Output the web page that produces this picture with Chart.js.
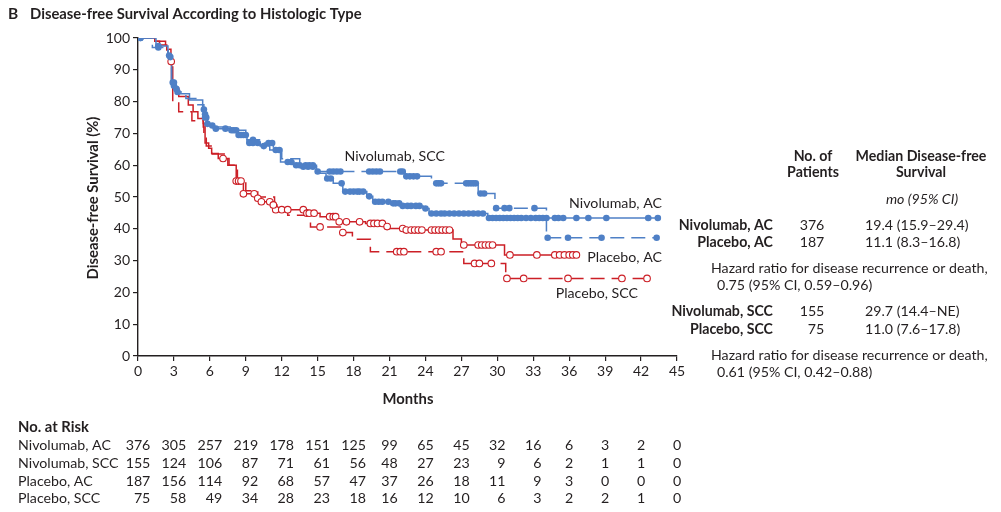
<!DOCTYPE html>
<html>
<head>
<meta charset="utf-8">
<script src="https://cdn.jsdelivr.net/npm/chart.js@4.4.1/dist/chart.umd.min.js"></script>
<style>
  html, body { margin: 0; padding: 0; background: #fff; }
  #wrap { position: relative; width: 1001px; height: 512px; }
</style>
</head>
<body>
<div id="wrap"><canvas id="km" width="1001" height="512"></canvas></div>
<script>
const BLUE = '#4f80c6';
const RED  = '#cc1f26';
const INK  = '#231f20';
const FONT = 'Lato, "Noto Sans", sans-serif';
const TXT  = 14.2;   // body text size

// ── Axes ──────────────────────────────────────────────────────
const X_TICKS = [0, 3, 6, 9, 12, 15, 18, 21, 24, 27, 30, 33, 36, 39, 42, 45];
const Y_TICKS = [0, 10, 20, 30, 40, 50, 60, 70, 80, 90, 100];

// ── Kaplan-Meier steps: [month, survival %] (value after the drop) ──
const nivoAC = [
    [0, 100], [1.5, 97.5], [2.5, 94.5], [2.8, 86], [3.1, 84], [3.4, 82.5], [4.3, 80.5],
    [5.4, 77.5], [5.6, 75], [5.8, 72.5], [6.3, 71.5], [7.7, 71], [8.3, 69.5], [9.1, 67],
    [10.2, 66], [11, 64.8], [11.9, 61], [13, 60], [14.9, 57.5], [15.7, 55.8], [16.3, 54.3],
    [17.1, 51.7], [19.1, 50.2], [19.6, 48.5], [21.3, 48], [21.9, 47.2], [23.8, 46.4],
    [24.3, 44.8], [29.2, 43.4], [43.6, 43.4]
];
const nivoSCC = [
    [0, 100], [1.2, 97], [2.5, 94], [2.8, 85], [3.2, 83], [4, 81], [5, 79], [5.5, 76],
    [5.8, 73], [6.5, 72], [8, 71], [9, 68], [10.5, 67], [11.3, 65], [12, 62], [13.5, 59.5],
    [15, 58], [22.3, 56.5], [24.5, 54.3], [28.4, 51.1], [29.8, 46.5], [34.1, 37.2], [43.4, 37.2]
];
const placeboAC = [
    [0, 100], [1.4, 99], [1.8, 97.8], [2.4, 96.2], [2.5, 94.6], [2.75, 92.6], [2.8, 86.3],
    [2.95, 84.2], [3.4, 81.6], [4.2, 78.9], [4.6, 76.8], [5.0, 74.7], [5.45, 73.1], [5.6, 67],
    [5.9, 65.3], [6.15, 63.7], [6.7, 62.1], [7.6, 60], [8.2, 55], [8.8, 51], [9.9, 49.6],
    [10.2, 48.5], [11.3, 47.5], [11.6, 46], [14.1, 44.9], [15.2, 43.8], [16.6, 42.2],
    [19, 41.7], [20.5, 40.7], [21, 40.1], [22.4, 39.6], [26.3, 36.8], [27, 34.9],
    [30.6, 31.8], [36.8, 31.8]
];
const placeboSCC = [
    [0, 100], [1.5, 99], [2.3, 96.5], [2.75, 92], [2.9, 80], [3.4, 76.8], [4.5, 74],
    [5.45, 72], [5.5, 68.5], [5.7, 66], [6.2, 63.5], [7.5, 60], [8.3, 55], [9, 52], [10, 50],
    [11.4, 46], [12.5, 44.3], [14.4, 40.6], [17, 38.8], [17.9, 36.7], [19.4, 32.8],
    [27.2, 29.1], [30.7, 24.4], [42.5, 24.4]
];

// ── Censoring times (months) ──────────────────────────────────
const censNivoAC = [
    0.2, 1.7, 2.6, 2.9, 3.0, 3.2, 5.5, 5.6, 5.7, 6.2, 6.5, 7.3, 7.8, 8.0, 8.4, 8.6, 8.8, 9.0,
    9.3, 9.6, 10.0, 10.5, 11.5, 11.8, 12.5, 12.8, 13.2, 13.5, 14.0, 14.3, 14.6, 15.8, 16.1,
    17.0, 17.3, 17.7, 18.0, 18.3, 18.5, 18.8, 19.3, 19.8, 20.1, 20.4, 20.9, 21.3, 21.5, 21.8,
    22.1, 22.5, 22.8, 23.2, 23.5, 24.0, 24.5, 24.9, 25.3, 25.6, 26.0, 26.4, 26.8, 27.2, 27.6,
    28.0, 28.4, 28.8, 29.3, 29.6, 29.9, 30.2, 30.5, 30.8, 31.1, 31.4, 31.7, 32.0, 32.4, 32.8,
    33.2, 33.5, 33.8, 34.1, 34.8, 35.1, 35.5, 36.6, 37.6, 39.1, 42.6, 43.4
];
const censNivoSCC = [
    0.2, 1.7, 2.7, 3.0, 3.3, 5.6, 5.8, 8.2, 9.6, 10.9, 11.2, 13.8, 14.2, 14.6, 15.0, 16.0,
    16.3, 16.6, 16.9, 19.3, 19.6, 19.9, 20.2, 21.9, 22.1, 22.4, 22.7, 23.0, 23.3, 24.9, 25.1,
    25.3, 27.4, 27.6, 27.8, 28.0, 28.2, 28.6, 28.9, 29.9, 30.6, 31.0, 33.1, 34.2, 35.9, 38.7, 43.3
];
const censPlaceboAC = [
    2.77, 7.1, 8.2, 8.4, 8.6, 8.8, 9.7, 10.0, 10.3, 11.0, 11.3, 12.0, 12.5, 13.8, 14.1, 14.3,
    14.7, 16.0, 16.3, 16.5, 16.8, 17.4, 18.5, 19.4, 19.7, 20.0, 20.4, 20.8, 22.1, 22.4, 22.8,
    23.1, 23.4, 23.7, 24.5, 24.8, 25.1, 25.4, 25.7, 26.0, 27.2, 28.4, 28.7, 29.0, 29.3, 29.6,
    31.05, 33.3, 34.8, 35.2, 35.6, 36.0, 36.3, 36.6
];
const censPlaceboSCC = [
    11.5, 15.2, 17.1, 21.6, 21.9, 22.2, 24.9, 25.3, 28.1, 28.5, 29.5, 30.8, 32.2, 35.9, 40.4, 42.5
];

// ── No. at risk ───────────────────────────────────────────────
const RISK_GROUPS    = ['Nivolumab, AC', 'Nivolumab, SCC', 'Placebo, AC', 'Placebo, SCC'];
const riskNivoAC     = [376, 305, 257, 219, 178, 151, 125, 99, 65, 45, 32, 16, 6, 3, 2, 0];
const riskNivoSCC    = [155, 124, 106, 87, 71, 61, 56, 48, 27, 23, 9, 6, 2, 1, 1, 0];
const riskPlaceboAC  = [187, 156, 114, 92, 68, 57, 47, 37, 26, 18, 11, 9, 3, 0, 0, 0];
const riskPlaceboSCC = [75, 58, 49, 34, 28, 23, 18, 16, 12, 10, 6, 3, 2, 2, 1, 0];

// ── Helpers ───────────────────────────────────────────────────
function survAt(curve, t) {
    let s = curve[0][1];
    for (const [x, y] of curve) {
        if (x <= t) s = y; else break;
    }
    return s;
}
const toPts = curve => curve.map(([x, y]) => ({ x, y }));
const censPts = (times, curve) => times.map(t => ({ x: t, y: survAt(curve, t) }));

function stepSet(curve, color, dash) {
    return {
        type: 'line', data: toPts(curve), borderColor: color, borderWidth: 1.5,
        borderDash: dash, stepped: true, pointRadius: 0, fill: false, order: 2
    };
}
function censSet(times, curve, color, filled) {
    return {
        type: 'scatter', data: censPts(times, curve), showLine: false, order: 1,
        pointRadius: 3.3, pointStyle: 'circle',
        pointBackgroundColor: filled ? color : '#fff',
        pointBorderColor: color, pointBorderWidth: filled ? 0 : 1.1
    };
}

// ── Text plugin ───────────────────────────────────────────────
const textPlugin = {
    id: 'kmText',
    afterDraw(chart) {
        const ctx = chart.ctx;
        const xs = chart.scales.x;
        const put = (txt, x, y, opt = {}) => {
            ctx.font = `${opt.style || ''} ${opt.weight || 'normal'} ${opt.size || TXT}px ${FONT}`;
            ctx.fillStyle = opt.color || INK;
            ctx.textAlign = opt.align || 'left';
            ctx.textBaseline = 'middle';
            ctx.fillText(txt, x, y);
        };
        ctx.save();

        // Title
        put('B', 8, 14, { weight: 'bold', size: 15.5 });
        put('Disease-free Survival According to Histologic Type', 30, 14, { weight: 'bold', size: 14.8 });

        // Axis titles
        put('Months', 408, 399, { weight: 'bold', size: 14.8, align: 'center' });
        ctx.save();
        ctx.translate(93, 198);
        ctx.rotate(-Math.PI / 2);
        put('Disease-free Survival (%)', 0, 0, { weight: 'bold', size: 14.8, align: 'center' });
        ctx.restore();

        // Curve labels
        put('Nivolumab, SCC', 445, 156, { align: 'right' });
        put('Nivolumab, AC', 662, 203, { align: 'right' });
        put('Placebo, AC', 662, 257, { align: 'right' });
        put('Placebo, SCC', 638, 293, { align: 'right' });

        // Summary table
        const b = { weight: 'bold' };
        put('No. of', 813, 156, { ...b, align: 'center' });
        put('Patients', 813, 172, { ...b, align: 'center' });
        put('Median Disease-free', 921, 156, { ...b, align: 'center' });
        put('Survival', 921, 172, { ...b, align: 'center' });
        put('mo (95% CI)', 922, 199, { style: 'italic', align: 'center' });

        put('Nivolumab, AC', 773, 225, { ...b, align: 'right' });
        put('376', 812, 225, { align: 'center' });
        put('19.4 (15.9–29.4)', 865, 225);
        put('Placebo, AC', 773, 242, { ...b, align: 'right' });
        put('187', 812, 242, { align: 'center' });
        put('11.1 (8.3–16.8)', 865, 242);
        put('Hazard ratio for disease recurrence or death,', 711, 268);
        put('0.75 (95% CI, 0.59–0.96)', 717, 285);

        put('Nivolumab, SCC', 773, 311, { ...b, align: 'right' });
        put('155', 812, 311, { align: 'center' });
        put('29.7 (14.4–NE)', 865, 311);
        put('Placebo, SCC', 773, 329, { ...b, align: 'right' });
        put('75', 816, 329, { align: 'center' });
        put('11.0 (7.6–17.8)', 865, 329);
        put('Hazard ratio for disease recurrence or death,', 711, 355);
        put('0.61 (95% CI, 0.42–0.88)', 717, 372);

        // Number at risk
        put('No. at Risk', 18, 427, { ...b, size: 14.8 });
        const rows = [riskNivoAC, riskNivoSCC, riskPlaceboAC, riskPlaceboSCC];
        const rowY = [445, 463, 481, 498];
        ctx.font = `normal ${TXT}px ${FONT}`;
        const colRight = X_TICKS.map((t, i) => {
            const w = Math.max(...rows.map(r => ctx.measureText(String(r[i])).width));
            return xs.getPixelForValue(t) + w / 2;
        });
        rows.forEach((r, j) => {
            put(RISK_GROUPS[j], 18, rowY[j]);
            r.forEach((v, i) => put(String(v), colRight[i], rowY[j], { align: 'right' }));
        });

        ctx.restore();
    }
};

// ── Chart ─────────────────────────────────────────────────────
const axisCommon = {
    type: 'linear',
    grid: { display: true, drawOnChartArea: false, drawTicks: true, tickLength: 5, color: INK, tickColor: INK, lineWidth: 1.2 },
    border: { display: true, color: INK, width: 1.4 },
};

new Chart(document.getElementById('km'), {
    data: {
        datasets: [
            stepSet(nivoAC, BLUE, []),
            stepSet(nivoSCC, BLUE, [14, 7]),
            stepSet(placeboAC, RED, []),
            stepSet(placeboSCC, RED, [14, 7]),
            censSet(censNivoAC, nivoAC, BLUE, true),
            censSet(censNivoSCC, nivoSCC, BLUE, true),
            censSet(censPlaceboAC, placeboAC, RED, false),
            censSet(censPlaceboSCC, placeboSCC, RED, false),
        ]
    },
    options: {
        responsive: false,
        animation: false,
        layout: { padding: { left: 98, right: 324, top: 38, bottom: 126 } },
        plugins: { legend: { display: false }, tooltip: { enabled: false } },
        scales: {
            x: {
                ...axisCommon, min: 0, max: 45,
                afterBuildTicks: s => { s.ticks = X_TICKS.map(v => ({ value: v })); },
                afterFit: s => { s.height = 30; },
                ticks: { font: { family: FONT, size: 14 }, color: INK, padding: 2, maxRotation: 0, autoSkip: false }
            },
            y: {
                ...axisCommon, min: 0, max: 100,
                afterBuildTicks: s => { s.ticks = Y_TICKS.map(v => ({ value: v })); },
                afterFit: s => { s.width = 40; },
                ticks: { font: { family: FONT, size: 14 }, color: INK, padding: 3, autoSkip: false }
            }
        }
    },
    plugins: [textPlugin]
});
</script>
</body>
</html>
